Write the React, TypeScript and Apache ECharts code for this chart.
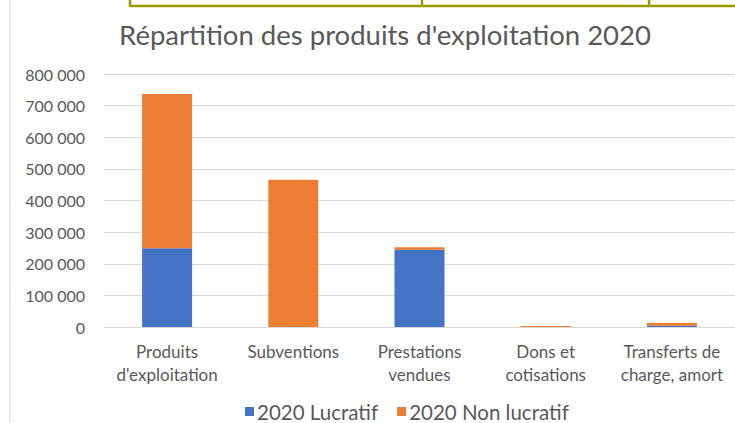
import React, { useEffect, useRef } from "react";
import * as echarts from "echarts";

const categories = [
  "Produits\nd'exploitation",
  "Subventions",
  "Prestations\nvendues",
  "Dons et\ncotisations",
  "Transferts de\ncharge, amort",
];
const lucratif2020 = [249000, 0, 244000, 0, 4000];
const nonLucratif2020 = [488000, 466000, 8000, 3000, 9000];
const seriesNames = ["2020 Lucratif", "2020 Non lucratif"];
const title = "Répartition des produits d'exploitation 2020";

const FONT = "Lato, 'Noto Sans', sans-serif";
const TEXT = "#595959";

export default function App() {
  const ref = useRef<HTMLDivElement>(null);
  useEffect(() => {
    if (!ref.current) return;
    const chart = echarts.init(ref.current, null, { renderer: "svg" });
    chart.setOption({
      animation: false,
      backgroundColor: "#ffffff",
      textStyle: { fontFamily: FONT },
      title: {
        text: title,
        left: 385,
        textAlign: "center",
        top: 20,
        padding: 0,
        textStyle: { fontFamily: FONT, fontSize: 27.5, fontWeight: "normal", color: TEXT },
      },
      legend: {
        data: seriesNames,
        left: 245,
        top: 401,
        padding: 0,
        itemWidth: 9,
        itemHeight: 9,
        itemGap: 19,
        icon: "rect",
        textStyle: { fontFamily: FONT, fontSize: 20.5, color: TEXT, padding: [0, 0, 0, -2] },
      },
      grid: { left: 104, right: 0, top: 74, bottom: 96, containLabel: false },
      xAxis: {
        type: "category",
        data: categories,
        axisLine: { show: true, lineStyle: { color: "#d9d9d9", width: 1 } },
        axisTick: { show: false },
        axisLabel: {
          color: TEXT,
          fontFamily: FONT,
          fontSize: 17,
          lineHeight: 23,
          margin: 13,
          interval: 0,
        },
      },
      yAxis: {
        type: "value",
        min: 0,
        max: 800000,
        interval: 100000,
        axisLine: { show: false },
        axisTick: { show: false },
        splitLine: { lineStyle: { color: "#d9d9d9", width: 1 } },
        axisLabel: {
          color: TEXT,
          fontFamily: FONT,
          fontSize: 16,
          margin: 19,
          formatter: (v: number) => String(v).replace(/\B(?=(\d{3})+(?!\d))/g, " "),
        },
      },
      series: [
        {
          name: seriesNames[0],
          type: "bar",
          stack: "total",
          data: lucratif2020,
          barWidth: 50,
          itemStyle: { color: "#4472C4" },
        },
        {
          name: seriesNames[1],
          type: "bar",
          stack: "total",
          data: nonLucratif2020,
          barWidth: 50,
          itemStyle: { color: "#ED7D31" },
        },
      ],
      graphic: [
        { type: "line", shape: { x1: 10, y1: 0, x2: 10, y2: 423 }, style: { stroke: "#d9d9d9", lineWidth: 1 } },
        { type: "line", shape: { x1: 130, y1: 6, x2: 735, y2: 6 }, style: { stroke: "#999900", lineWidth: 2.5 } },
        { type: "line", shape: { x1: 130, y1: 0, x2: 130, y2: 7 }, style: { stroke: "#999900", lineWidth: 2.5 } },
        { type: "line", shape: { x1: 422, y1: 0, x2: 422, y2: 7 }, style: { stroke: "#999900", lineWidth: 2.5 } },
        { type: "line", shape: { x1: 649, y1: 0, x2: 649, y2: 7 }, style: { stroke: "#999900", lineWidth: 2.5 } },
      ],
    });
    return () => chart.dispose();
  }, []);
  return (
    <div
      ref={ref}
      style={{ position: "fixed", left: 0, top: 0, width: 735, height: 423 }}
    />
  );
}
